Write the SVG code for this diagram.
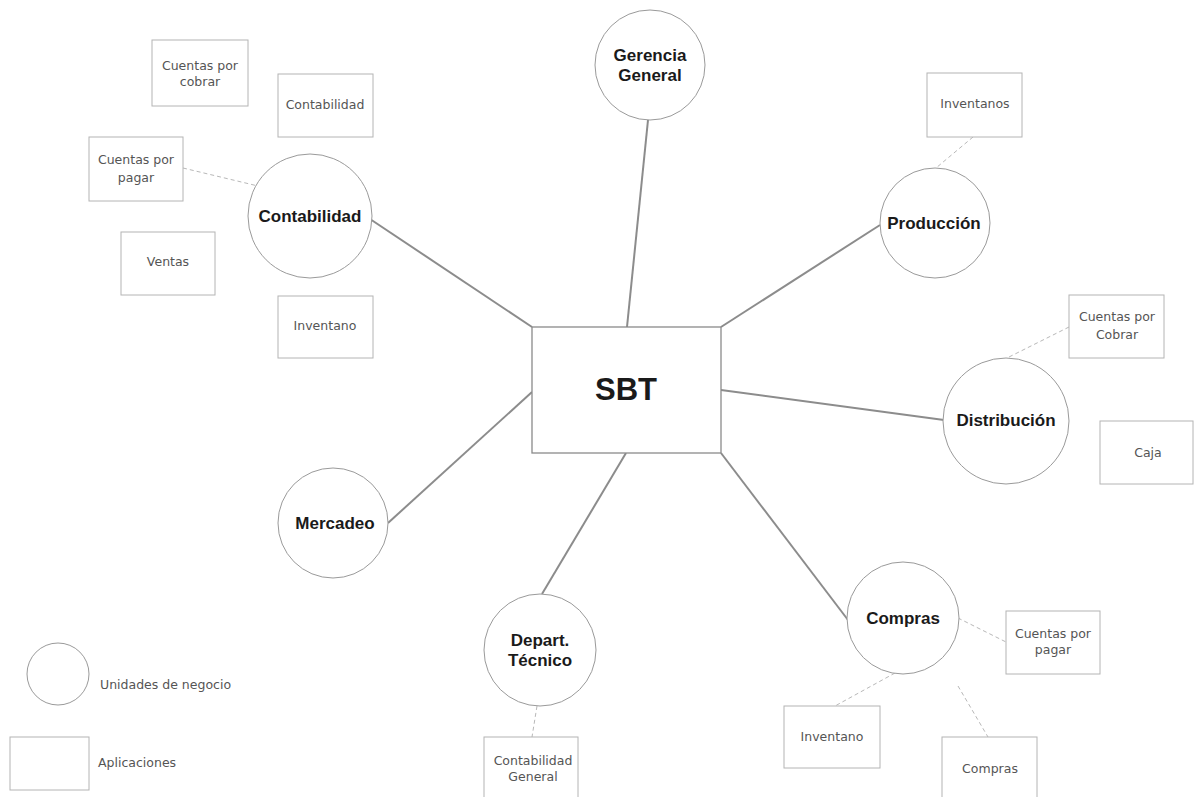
<svg xmlns="http://www.w3.org/2000/svg" width="1194" height="797" viewBox="0 0 1194 797">
<style>
.unit{fill:#fff;stroke:#9a9a9a;stroke-width:1}
.app{fill:#fff;stroke:#b4b4b4;stroke-width:1}
.main{fill:#fff;stroke:#8a8a8a;stroke-width:1.3}
.link{stroke:#8c8c8c;stroke-width:2;fill:none}
.dlink{stroke:#b8b8b8;stroke-width:1;stroke-dasharray:4 3;fill:none}
.ul{font-family:"Liberation Sans",Arial,sans-serif;font-weight:bold;font-size:17px;fill:#1a1a1a;text-anchor:middle}
.al{font-family:"DejaVu Sans",sans-serif;font-size:12.5px;fill:#555;text-anchor:middle}
.lg{font-family:"DejaVu Sans",sans-serif;font-size:12.5px;fill:#555}
.sbt{font-family:"Liberation Sans",Arial,sans-serif;font-weight:bold;font-size:31px;fill:#1a1a1a;text-anchor:middle}
</style>
<rect width="1194" height="797" fill="#fff"/>
<g id="connectors">
<line class="link" x1="648" y1="120" x2="627" y2="327"/>
<line class="link" x1="370" y1="219" x2="532" y2="327"/>
<line class="link" x1="721" y1="327" x2="880" y2="225"/>
<line class="link" x1="721" y1="390" x2="944" y2="420"/>
<line class="link" x1="721" y1="453" x2="848" y2="620"/>
<line class="link" x1="626" y1="453" x2="542" y2="594"/>
<line class="link" x1="532" y1="392" x2="388" y2="523"/>
<line class="dlink" x1="183" y1="168" x2="258" y2="186"/>
<line class="dlink" x1="973" y1="137" x2="936" y2="168"/>
<line class="dlink" x1="1069" y1="327" x2="1007" y2="358"/>
<line class="dlink" x1="958" y1="618" x2="1006" y2="642"/>
<line class="dlink" x1="895" y1="673" x2="835" y2="706"/>
<line class="dlink" x1="958" y1="686" x2="988" y2="737"/>
<line class="dlink" x1="537" y1="706" x2="532" y2="737"/>
</g>
<g id="sbt">
<rect class="main" x="532" y="327" width="189" height="126"/>
<text class="sbt" x="626" y="400">SBT</text>
</g>
<g id="gerencia">
<circle class="unit" cx="650" cy="65" r="55"/>
<text class="ul" x="650" y="61">Gerencia</text>
<text class="ul" x="650" y="81">General</text>
</g>
<g id="contabilidad">
<circle class="unit" cx="310" cy="216" r="62"/>
<text class="ul" x="310" y="222">Contabilidad</text>
</g>
<g id="produccion">
<circle class="unit" cx="935" cy="223" r="55"/>
<text class="ul" x="934" y="229">Producción</text>
</g>
<g id="distribucion">
<circle class="unit" cx="1006" cy="421" r="63"/>
<text class="ul" x="1006" y="426">Distribución</text>
</g>
<g id="compras">
<circle class="unit" cx="903" cy="618" r="56"/>
<text class="ul" x="903" y="624">Compras</text>
</g>
<g id="departamento">
<circle class="unit" cx="540" cy="650" r="56"/>
<text class="ul" x="540" y="646">Depart.</text>
<text class="ul" x="540" y="666">Técnico</text>
</g>
<g id="mercadeo">
<circle class="unit" cx="333" cy="523" r="55"/>
<text class="ul" x="335" y="529">Mercadeo</text>
</g>
<g id="app-cxc">
<rect class="app" x="152" y="40" width="96" height="66"/>
<text class="al" x="200" y="70">Cuentas por</text>
<text class="al" x="200" y="86">cobrar</text>
</g>
<g id="app-contabilidad">
<rect class="app" x="278" y="74" width="95" height="63"/>
<text class="al" x="325" y="109">Contabilidad</text>
</g>
<g id="app-cxp">
<rect class="app" x="89" y="137" width="94" height="64"/>
<text class="al" x="136" y="164">Cuentas por</text>
<text class="al" x="136" y="182">pagar</text>
</g>
<g id="app-ventas">
<rect class="app" x="121" y="232" width="94" height="63"/>
<text class="al" x="168" y="266">Ventas</text>
</g>
<g id="app-inventario1">
<rect class="app" x="278" y="296" width="95" height="62"/>
<text class="al" x="325" y="330">Inventano</text>
</g>
<g id="app-inventarios">
<rect class="app" x="927" y="73" width="95" height="64"/>
<text class="al" x="975" y="108">Inventanos</text>
</g>
<g id="app-cxc2">
<rect class="app" x="1069" y="295" width="95" height="63"/>
<text class="al" x="1117" y="321">Cuentas por</text>
<text class="al" x="1117" y="339">Cobrar</text>
</g>
<g id="app-caja">
<rect class="app" x="1100" y="421" width="93" height="63"/>
<text class="al" x="1148" y="457">Caja</text>
</g>
<g id="app-cxp2">
<rect class="app" x="1006" y="611" width="94" height="63"/>
<text class="al" x="1053" y="638">Cuentas por</text>
<text class="al" x="1053" y="654">pagar</text>
</g>
<g id="app-inventario2">
<rect class="app" x="784" y="706" width="96" height="62"/>
<text class="al" x="832" y="741">Inventano</text>
</g>
<g id="app-compras">
<rect class="app" x="942" y="737" width="95" height="62"/>
<text class="al" x="990" y="773">Compras</text>
</g>
<g id="app-contgeneral">
<rect class="app" x="484" y="737" width="94" height="62"/>
<text class="al" x="533" y="765">Contabilidad</text>
<text class="al" x="533" y="781">General</text>
</g>
<g id="legend">
<circle class="unit" cx="58" cy="674" r="31"/>
<text class="lg" x="100" y="689">Unidades de negocio</text>
<rect class="app" x="10" y="737" width="79" height="53"/>
<text class="lg" x="98" y="767">Aplicaciones</text>
</g>
</svg>
